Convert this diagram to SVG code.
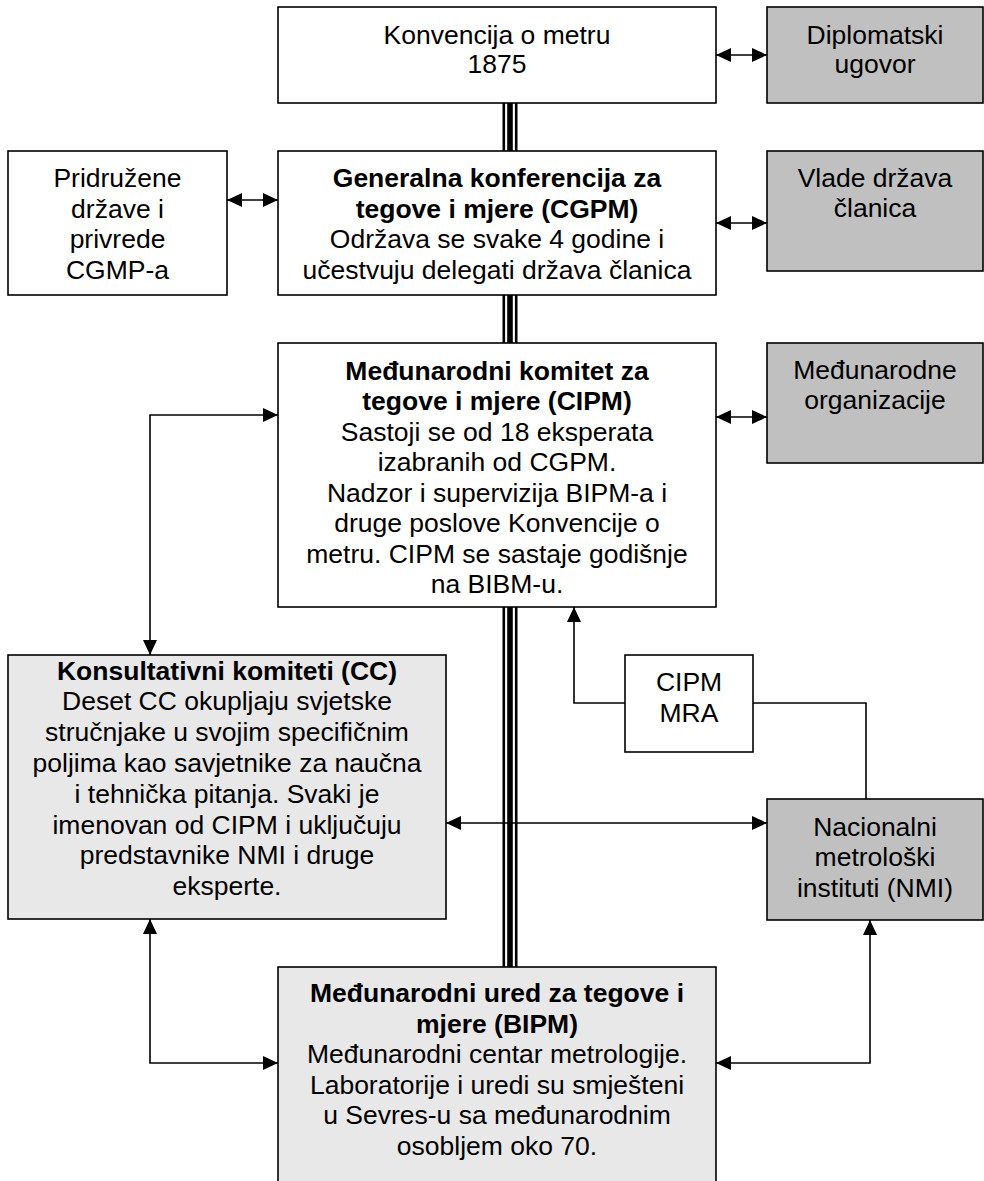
<svg xmlns="http://www.w3.org/2000/svg" width="984" height="1181" viewBox="0 0 984 1181">
<style>
  .box{stroke:#000;stroke-width:1.6}
  .w{fill:#fff}
  .g{fill:#c0c0c0}
  .lg{fill:#e8e8e8}
  text{font-family:"Liberation Sans",Arial,sans-serif;font-size:26.5px;fill:#000;text-anchor:middle}
  .b{font-weight:bold}
  .con{fill:none;stroke:#000;stroke-width:1.6}
  .tri{fill:#000}
</style>
<defs>
  <marker id="ah" viewBox="0 0 15 14" refX="15" refY="7" markerWidth="15" markerHeight="14" markerUnits="userSpaceOnUse" orient="auto-start-reverse">
    <path d="M0,0 L15,7 L0,14 z" fill="#000"/>
  </marker>
</defs>
<rect width="984" height="1181" fill="#fff"/>

<g id="connectors">
  <!-- triple lines -->
  <g id="triple-lines" class="tri">
    <rect x="502.5" y="103" width="2.6" height="48"/>
    <rect x="507.2" y="103" width="5.6" height="48"/>
    <rect x="514.9" y="103" width="2.6" height="48"/>
    <rect x="502.5" y="295" width="2.6" height="48"/>
    <rect x="507.2" y="295" width="5.6" height="48"/>
    <rect x="514.9" y="295" width="2.6" height="48"/>
    <rect x="502.5" y="607" width="2.6" height="360"/>
    <rect x="507.2" y="607" width="5.6" height="360"/>
    <rect x="514.9" y="607" width="2.6" height="360"/>
  </g>
  <path class="con" d="M716,55 H767" marker-start="url(#ah)" marker-end="url(#ah)"/>
  <path class="con" d="M227,200 H278" marker-start="url(#ah)" marker-end="url(#ah)"/>
  <path class="con" d="M716,223 H767" marker-start="url(#ah)" marker-end="url(#ah)"/>
  <path class="con" d="M716,417 H767" marker-start="url(#ah)" marker-end="url(#ah)"/>
  <path class="con" d="M278,415 H150 V655" marker-start="url(#ah)" marker-end="url(#ah)"/>
  <path class="con" d="M446,823 H767" marker-start="url(#ah)" marker-end="url(#ah)"/>
  <path class="con" d="M150,919 V1063 H278" marker-start="url(#ah)" marker-end="url(#ah)"/>
  <path class="con" d="M870,920 V1063 H716" marker-start="url(#ah)" marker-end="url(#ah)"/>
  <path class="con" d="M625,703 H574 V607" marker-end="url(#ah)"/>
  <path class="con" d="M753,703 H866 V799"/>
</g>

<g id="konvencija">
  <rect class="box w" x="278" y="7" width="438" height="96"/>
  <text x="497"><tspan x="497" y="44">Konvencija o metru</tspan><tspan x="497" y="73">1875</tspan></text>
</g>
<g id="diplomatski">
  <rect class="box g" x="767" y="7" width="216" height="96"/>
  <text><tspan x="875" y="43.5">Diplomatski</tspan><tspan x="875" y="73">ugovor</tspan></text>
</g>
<g id="pridruzene">
  <rect class="box w" x="8" y="151" width="219" height="144"/>
  <text><tspan x="117.5" y="187">Pridružene</tspan><tspan x="117.5" y="217.5">države i</tspan><tspan x="117.5" y="248">privrede</tspan><tspan x="117.5" y="278.5">CGMP-a</tspan></text>
</g>
<g id="cgpm">
  <rect class="box w" x="278" y="151" width="438" height="144"/>
  <text><tspan class="b" x="497" y="187">Generalna konferencija za</tspan><tspan class="b" x="497" y="217.5">tegove i mjere (CGPM)</tspan><tspan x="497" y="248">Održava se svake 4 godine i</tspan><tspan x="497" y="278.5">učestvuju delegati država članica</tspan></text>
</g>
<g id="vlade">
  <rect class="box g" x="767" y="151" width="216" height="120"/>
  <text><tspan x="875" y="186.5">Vlade država</tspan><tspan x="875" y="217">članica</tspan></text>
</g>
<g id="cipm">
  <rect class="box w" x="278" y="343" width="438" height="264"/>
  <text><tspan class="b" x="497" y="379.5">Međunarodni komitet za</tspan><tspan class="b" x="497" y="410">tegove i mjere (CIPM)</tspan><tspan x="497" y="440.5">Sastoji se od 18 eksperata</tspan><tspan x="497" y="471">izabranih od CGPM.</tspan><tspan x="497" y="501.5">Nadzor i supervizija BIPM-a i</tspan><tspan x="497" y="532">druge poslove Konvencije o</tspan><tspan x="497" y="562.5">metru. CIPM se sastaje godišnje</tspan><tspan x="497" y="593">na BIBM-u.</tspan></text>
</g>
<g id="medjunarodne-organizacije">
  <rect class="box g" x="767" y="343" width="216" height="120"/>
  <text><tspan x="875" y="378.5">Međunarodne</tspan><tspan x="875" y="409">organizacije</tspan></text>
</g>
<g id="cipm-mra">
  <rect class="box w" x="625" y="655" width="128" height="97"/>
  <text><tspan x="689" y="691">CIPM</tspan><tspan x="689" y="721.5">MRA</tspan></text>
</g>
<g id="cc">
  <rect class="box lg" x="8" y="655" width="438" height="264"/>
  <text><tspan class="b" x="227" y="679.5">Konsultativni komiteti (CC)</tspan><tspan x="227" y="710.3">Deset CC okupljaju svjetske</tspan><tspan x="227" y="741.1">stručnjake u svojim specifičnim</tspan><tspan x="227" y="771.9">poljima kao savjetnike za naučna</tspan><tspan x="227" y="802.7">i tehnička pitanja. Svaki je</tspan><tspan x="227" y="833.5">imenovan od CIPM i uključuju</tspan><tspan x="227" y="864.3">predstavnike NMI i druge</tspan><tspan x="227" y="895.1">eksperte.</tspan></text>
</g>
<g id="nmi">
  <rect class="box g" x="767" y="799" width="216" height="121"/>
  <text><tspan x="875" y="835.5">Nacionalni</tspan><tspan x="875" y="866">metrološki</tspan><tspan x="875" y="896.5">instituti (NMI)</tspan></text>
</g>
<g id="bipm">
  <rect class="box lg" x="278" y="967" width="438" height="230"/>
  <text><tspan class="b" x="497" y="1002">Međunarodni ured za tegove i</tspan><tspan class="b" x="497" y="1032.5">mjere (BIPM)</tspan><tspan x="497" y="1063">Međunarodni centar metrologije.</tspan><tspan x="497" y="1093.5">Laboratorije i uredi su smješteni</tspan><tspan x="497" y="1124">u Sevres-u sa međunarodnim</tspan><tspan x="497" y="1154.5">osobljem oko 70.</tspan></text>
</g>
</svg>
